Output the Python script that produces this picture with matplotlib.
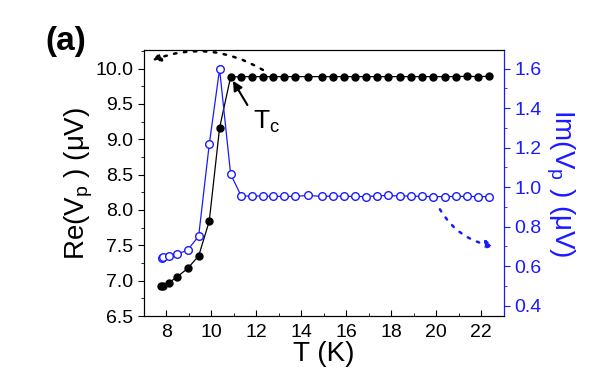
import matplotlib.pyplot as plt
from matplotlib.ticker import MultipleLocator

plt.rcParams['font.family'] = ['Liberation Sans', 'DejaVu Sans']

# Re(Vp) data (left axis)
T_re = [7.78, 7.84, 8.11, 8.49, 8.95, 9.44, 9.91, 10.37, 10.86,
        11.33, 11.80, 12.28, 12.75, 13.22, 13.71, 14.32, 14.91, 15.43,
        15.91, 16.40, 16.86, 17.35, 17.86, 18.37, 18.87, 19.37, 19.87,
        20.38, 20.88, 21.37, 21.86, 22.36]
re_vp = [6.92, 6.93, 6.97, 7.055, 7.173, 7.35, 7.84, 9.16, 9.88,
         9.885, 9.885, 9.885, 9.885, 9.885, 9.885, 9.885, 9.885, 9.885,
         9.885, 9.885, 9.885, 9.885, 9.885, 9.885, 9.885, 9.885, 9.885,
         9.885, 9.885, 9.89, 9.885, 9.89]

# Im(Vp) data (right axis)
T_im = [7.81, 7.86, 8.11, 8.49, 8.95, 9.44, 9.91, 10.37, 10.86,
        11.33, 11.80, 12.28, 12.75, 13.22, 13.71, 14.32, 14.91, 15.43,
        15.91, 16.40, 16.86, 17.35, 17.86, 18.37, 18.87, 19.37, 19.87,
        20.38, 20.88, 21.37, 21.86, 22.36]
im_vp = [0.643, 0.646, 0.653, 0.661, 0.682, 0.752, 1.216, 1.597, 1.066,
         0.955, 0.955, 0.955, 0.953, 0.953, 0.953, 0.958, 0.953, 0.955,
         0.953, 0.953, 0.952, 0.956, 0.958, 0.955, 0.955, 0.953, 0.952,
         0.952, 0.953, 0.953, 0.952, 0.952]

blue = '#1a1aff'

fig = plt.figure(figsize=(5.99, 3.74), dpi=100)
ax = fig.add_axes([0.240, 0.155, 0.601, 0.711])
ax2 = ax.twinx()

ax.plot(T_re, re_vp, '-o', color='black', lw=0.9, ms=5, mfc='black', mec='black')
ax2.plot(T_im, im_vp, '-o', color=blue, lw=0.9, ms=5.5, mfc='white',
         mec=blue, mew=1.0)

ax.set_xlim(7, 23)
ax.set_ylim(6.5, 10.26)
ax2.set_ylim(0.348, 1.693)

ax.xaxis.set_major_locator(MultipleLocator(2))
ax.xaxis.set_minor_locator(MultipleLocator(1))
ax.yaxis.set_major_locator(MultipleLocator(0.5))
ax.yaxis.set_minor_locator(MultipleLocator(0.25))
ax2.yaxis.set_major_locator(MultipleLocator(0.2))
ax2.yaxis.set_minor_locator(MultipleLocator(0.1))

ax.tick_params(axis='x', which='major', direction='in', length=4, labelsize=14, pad=6)
ax.tick_params(axis='x', which='minor', direction='in', length=2)
ax.tick_params(axis='y', which='major', direction='out', length=4, labelsize=14)
ax.tick_params(axis='y', which='minor', direction='out', length=2)
ax2.tick_params(axis='y', which='major', direction='out', length=4, labelsize=14,
                colors=blue)
ax2.tick_params(axis='y', which='minor', direction='out', length=2, colors=blue)
ax2.spines['right'].set_color(blue)

ax.set_xlabel('T (K)', fontsize=20, labelpad=0)
ax.set_ylabel(r'Re(V$_\mathregular{p}$ ) ($\mathregular{\mu}$V)', fontsize=20, labelpad=0)
ax2.set_ylabel(r'Im(V$_\mathregular{p}$ ) ($\mathregular{\mu}$V)', fontsize=20,
               color=blue, rotation=-90, labelpad=25)

# Tc arrow
ax.annotate('', xy=(10.9, 9.86), xytext=(11.67, 9.45),
            arrowprops=dict(arrowstyle='-|>', color='black', lw=1.5,
                            mutation_scale=14))
ax.text(11.85, 9.155, r'T$_\mathregular{c}$', fontsize=19, ha='left', va='baseline')

# dotted curved arrows pointing to axes
ax.annotate('', xy=(7.25, 10.1), xytext=(12.4, 9.96),
            arrowprops=dict(arrowstyle='-|>', color='black', lw=1.8, ls=(0, (1, 3)),
                            connectionstyle='arc3,rad=0.25', mutation_scale=12))
ax2.annotate('', xy=(22.7, 0.70), xytext=(20.1, 0.90),
             arrowprops=dict(arrowstyle='-|>', color=blue, lw=1.8, ls=(0, (1, 3)),
                             connectionstyle='arc3,rad=0.25', mutation_scale=12))

fig.text(0.075, 0.93, '(a)', fontsize=24, fontweight='bold', va='top')

fig.savefig('out.png', dpi=100)
